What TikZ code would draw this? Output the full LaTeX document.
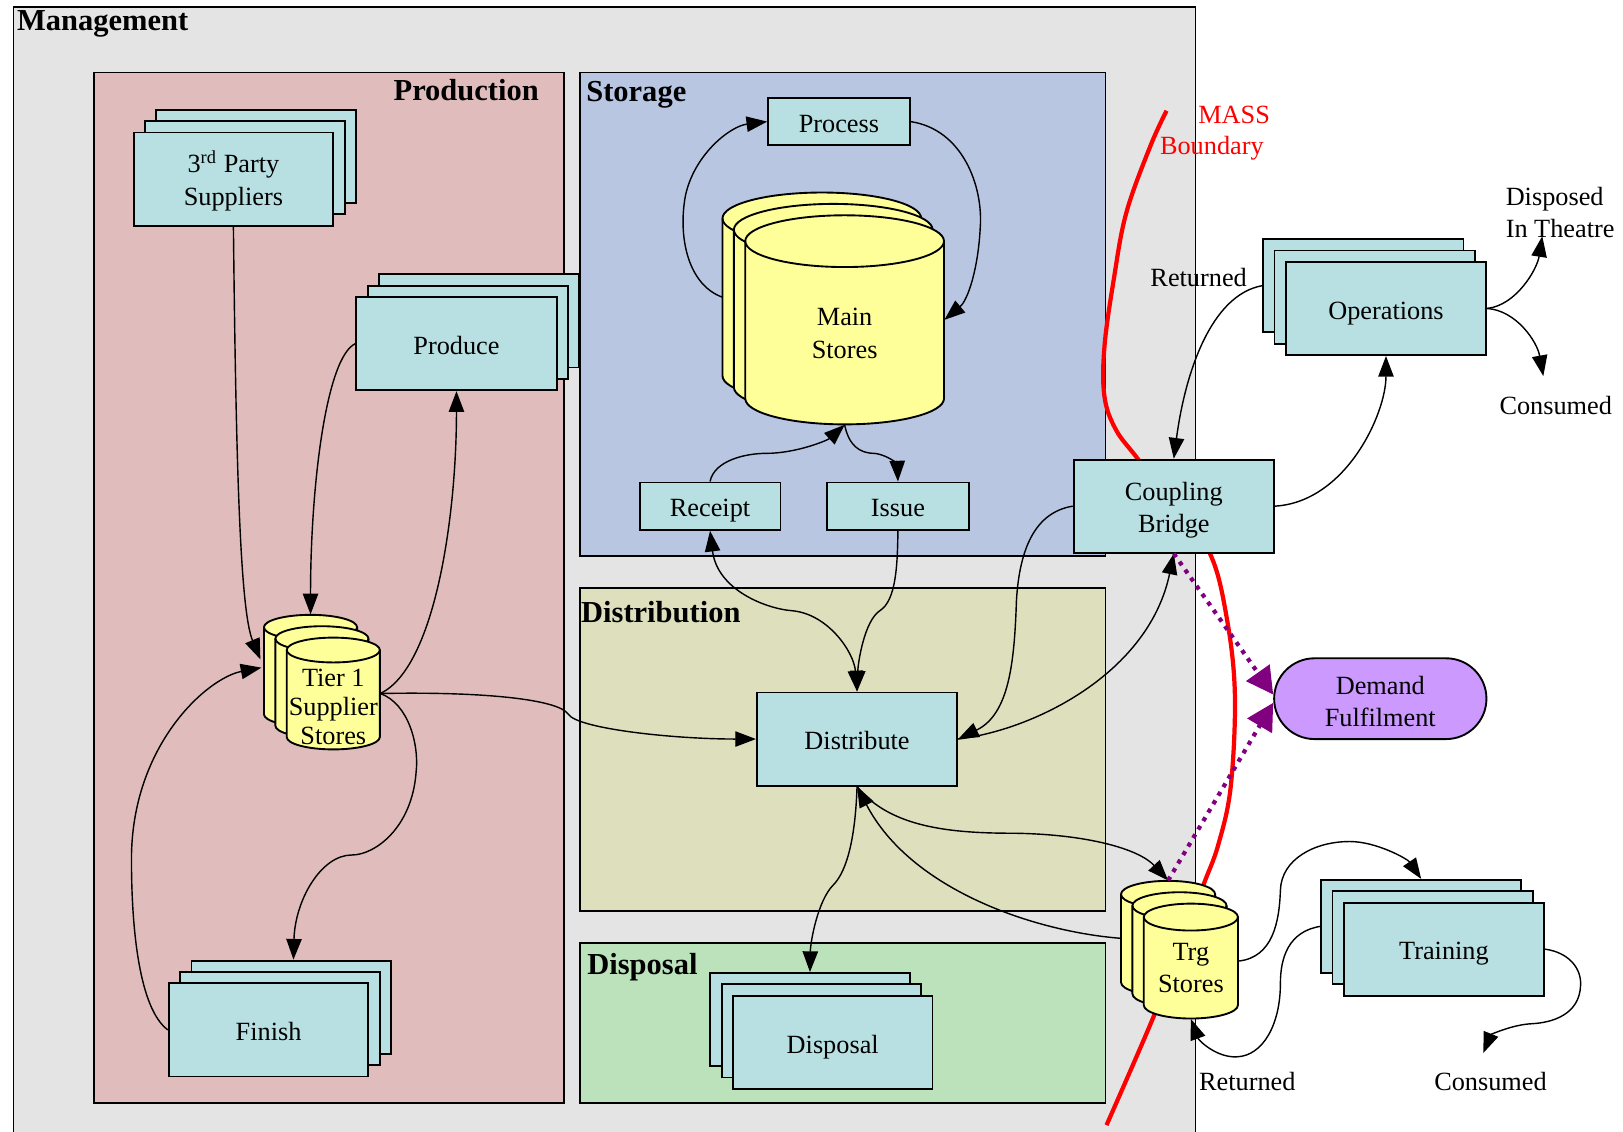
\documentclass[tikz,border=0pt]{standalone}
\usepackage{fontspec}
\setmainfont{Liberation Serif}
\usepackage{tikz}
\usetikzlibrary{calc}
\usetikzlibrary{arrows.meta}
\usetikzlibrary{shapes.misc}
\usetikzlibrary{shadows}

\definecolor{gris}{RGB}{228,228,228}
\definecolor{rosa}{RGB}{224,189,188}
\definecolor{azul}{RGB}{184,198,226}
\definecolor{oliva}{RGB}{222,223,188}
\definecolor{verde}{RGB}{188,226,188}
\definecolor{celeste}{RGB}{184,224,226}
\definecolor{amarillo}{RGB}{255,255,153}
\definecolor{lila}{RGB}{204,153,255}
\definecolor{morado}{RGB}{128,0,128}

\newcommand{\txt}{\fontsize{11.2}{13.7}\selectfont}
\newcommand{\titulo}{\fontsize{13}{15}\selectfont\bfseries}
% cilindro: centro x, tope y, radio x, alto, radio y
\newcommand{\cilindro}[5]{%
	\filldraw [fill=amarillo, line width=0.8pt] (#1-#3,#2+#5) -- (#1-#3,#2+#4-#5) arc [start angle=180, end angle=0, x radius=#3, y radius=#5] -- (#1+#3,#2+#5) arc [start angle=0, end angle=-180, x radius=#3, y radius=#5] -- cycle;
	\draw [line width=0.8pt] (#1-#3,#2+#5) arc [start angle=180, end angle=0, x radius=#3, y radius=#5];
}

\begin{document}
\begin{tikzpicture}[x=0.0155cm, y=-0.0155cm,
		caja/.style={draw, line width=0.8pt, fill=celeste, font=\txt, align=center, inner sep=0pt, minimum width=2.99cm, minimum height=1.395cm, text height=24.6pt},
		linea/.style={text height=11.6pt, text depth=2.4pt},
		pila izq/.style={copy shadow={shadow xshift=-0.34cm, shadow yshift=0.34cm, draw=black, fill=#1, line width=0.8pt}, copy shadow={shadow xshift=-0.17cm, shadow yshift=0.17cm, draw=black, fill=#1, line width=0.8pt}},
		pila der/.style={copy shadow={shadow xshift=0.34cm, shadow yshift=0.34cm, draw=black, fill=#1, line width=0.8pt}, copy shadow={shadow xshift=0.17cm, shadow yshift=0.17cm, draw=black, fill=#1, line width=0.8pt}},
		almacen/.style={font=\txt, align=center, inner sep=0pt},
		flecha/.style={-{Triangle[length=0.31cm, width=0.23cm]}, line width=0.6pt},
		flecha doble/.style={{Triangle[length=0.31cm, width=0.23cm]}-{Triangle[length=0.31cm, width=0.23cm]}, line width=0.6pt},
		demanda/.style={-{Triangle[length=0.4cm, width=0.42cm]}, draw=morado, line width=1.8pt, dash pattern=on 1.8pt off 2.4pt},
		titulo/.style={font=\titulo, inner sep=0pt},
		etiqueta/.style={font=\txt, inner sep=1pt}]
	\useasboundingbox (0,0) rectangle (1568,1093);

	% zonas
	\draw [line width=0.8pt, fill=gris] (13,7) rectangle (1155,1110); % management
	\draw [line width=0.8pt, fill=rosa] (91,70) rectangle (545,1066); % produccion
	\draw [line width=0.8pt, fill=azul] (560,70) rectangle (1068,537); % almacen
	\draw [line width=0.8pt, fill=oliva] (560,568) rectangle (1068,880); % distribucion
	\draw [line width=0.8pt, fill=verde] (560,911) rectangle (1068,1066); % desecho
	\node [titulo, anchor=base west] (management) at (16,29) {Management};
	\node [titulo, anchor=base east] (production) at (521,97) {Production};
	\node [titulo, anchor=base west] (storage) at (566,98) {Storage};
	\node [titulo, anchor=base west] (distribution) at (561,601) {Distribution};
	\node [titulo, anchor=base west] (disposalzone) at (567,941) {Disposal};

	% frontera MASS
	\draw [red, line width=1.8pt] plot [smooth, tension=0.6] coordinates {(1127,107) (1111,142) (1088,206) (1076,270) (1067,335) (1067,383) (1078,415) (1099,443) (1135,490) (1169,535) (1185,596) (1193,670) (1189,760) (1177,816) (1163,854) (1140,915) (1115,981) (1069,1087)};
	\node [etiqueta, red, anchor=west] (mass) at (1155,111) {MASS};
	\node [etiqueta, red, anchor=west] (boundary) at (1118,143) {Boundary};

	% depositos
	\foreach \d in {22,11,0} {\cilindro{322-\d}{616-\d}{45}{108}{12}} % tier 1
	\foreach \d in {22,11,0} {\cilindro{816-\d}{208-\d}{96}{202}{25}} % principal
	\foreach \d in {22,11,0} {\cilindro{1150.5-\d}{873-\d}{45.5}{111}{13}} % entrenamiento
	\node [almacen, minimum width=1.395cm, minimum height=1.674cm, text height=43.8pt, font=\fontsize{11.2}{12.4}\selectfont] (tier) at (322,670) {Tier 1\\Supplier\\Stores};
	\node [almacen, minimum width=2.976cm, minimum height=3.131cm, text height=32.7pt] (main) at (816,309) {Main\\Stores};
	\node [almacen, minimum width=1.41cm, minimum height=1.72cm, text height=27.1pt] (trg) at (1150.5,928.5) {Trg\\Stores};

	% nodos
	\node [caja, pila der=celeste] (sup) at (225.5,173) {3\textsuperscript{rd} Party\\Suppliers};
	\node [caja, linea, pila der=celeste, minimum width=3.0cm] (produce) at (441,332) {Produce};
	\node [caja, linea, pila der=celeste] (finish) at (259.5,995) {Finish};
	\node [caja, linea, minimum width=2.12cm, minimum height=0.70cm] (process) at (810.5,117.5) {Process};
	\node [caja, linea, minimum width=2.11cm, minimum height=0.71cm] (receipt) at (686,489) {Receipt};
	\node [caja, linea, minimum width=2.12cm, minimum height=0.71cm] (issue) at (867.5,489) {Issue};
	\node [caja, linea, minimum width=3.0cm] (distribute) at (828,714) {Distribute};
	\node [caja, linea, pila izq=celeste] (disposal) at (804.5,1007) {Disposal};
	\node [caja, minimum width=3.0cm] (coupling) at (1134,489) {Coupling\\Bridge};
	\node [caja, linea, pila izq=celeste, minimum width=3.0cm] (ops) at (1339,298) {Operations};
	\node [caja, linea, pila izq=celeste, minimum width=3.0cm] (training) at (1395,917) {Training};
	\node [draw, rounded rectangle, line width=0.8pt, fill=lila, font=\txt, align=center, minimum width=3.18cm, minimum height=1.21cm, inner sep=0pt, text height=23.6pt] (demand) at (1333.5,675) {Demand\\Fulfilment};
	\node [etiqueta] (returnedops) at (1158,268) {Returned};
	\node [etiqueta, anchor=west, align=left] (disposed) at (1452,205) {Disposed\\In Theatre};
	\node [etiqueta] (consumed) at (1503,392) {Consumed};
	\node [etiqueta] (returnedtrg) at (1205,1045) {Returned};
	\node [etiqueta] (consumedtrg) at (1440,1045) {Consumed};

	% produccion
	\draw [flecha] (sup.south) .. controls (228,450) and (232,590) .. ($(tier.west)+(-25,-33)$);
	\draw [flecha] (produce.west) .. controls (315,345) and (300,470) .. ($(tier.north)+(-22,-22)$);
	\draw [flecha] (tier.east) .. controls (420,645) and (441,500) .. (produce.south);
	\draw [flecha] (tier.east) .. controls (470,668) and (540,676) .. (549,690) .. controls (558,704) and (650,714) .. (distribute.west);
	\draw [flecha] (tier.east) .. controls (395,680) and (405,720) .. (402,746) .. controls (398,800) and (362,826) .. (340,826) .. controls (310,826) and (285,870) .. ($(finish.north)+(24,-22)$);
	\draw [flecha] (finish.west) .. controls (135,975) and (127,900) .. (127,830) .. controls (127,720) and (200,655) .. ($(tier.west)+(-24,-25)$);

	% almacen
	\draw [flecha] ($(main.west)+(-22,-22)$) .. controls (665,275) and (655,230) .. (662,190) .. controls (670,150) and (705,122) .. (process.west);
	\draw [flecha] (process.east) .. controls (930,125) and (950,180) .. (947,220) .. controls (945,260) and (935,290) .. (main.east);
	\draw [flecha] (receipt.north) .. controls (690,445) and (720,438) .. (740,438) .. controls (770,438) and (800,425) .. (main.south);
	\draw [flecha] (main.south) .. controls (820,430) and (830,438) .. (845,438) .. controls (860,440) and (867,450) .. (issue.north);

	% distribucion
	\draw [flecha doble] (receipt.south) .. controls (693,570) and (740,588) .. (765,590) .. controls (800,593) and (825,630) .. (distribute.north);
	\draw [flecha] (issue.south) .. controls (867,545) and (866,580) .. (850,590) .. controls (835,600) and (829,640) .. (distribute.north);
	\draw [flecha] (coupling.west) .. controls (1000,495) and (985,530) .. (982,580) .. controls (980,640) and (975,690) .. (distribute.east);
	\draw [flecha] (distribute.east) .. controls (1000,705) and (1110,650) .. (coupling.south);
	\draw [flecha] (distribute.south) .. controls (826,820) and (815,845) .. (805,855) .. controls (790,870) and (783,910) .. ($(disposal.north)+(-22,-22)$);
	\draw [flecha] (distribute.south) .. controls (860,800) and (920,805) .. (980,805) .. controls (1050,806) and (1100,820) .. ($(trg.north)+(-22,-22)$);
	\draw [flecha] ($(trg.west)+(-22,-22)$) .. controls (1000,900) and (880,860) .. (distribute.south);

	% operaciones
	\draw [flecha] (coupling.east) .. controls (1300,485) and (1339,400) .. (ops.south);
	\draw [flecha] ($(ops.west)+(-22,-22)$) .. controls (1170,285) and (1145,360) .. (coupling.north);
	\draw [flecha] (ops.east) .. controls (1465,295) and (1485,260) .. ($(disposed.south west)+(38,-4)$);
	\draw [flecha] (ops.east) .. controls (1465,300) and (1485,330) .. ($(consumed.north)+(-12,-17)$);

	% entrenamiento
	\draw [flecha] (trg.east) .. controls (1230,925) and (1236,890) .. (1237,860) .. controls (1238,830) and (1270,813) .. (1304,813) .. controls (1330,813) and (1360,830) .. ($(training.north)+(-22,-22)$);
	\draw [flecha] ($(training.west)+(-22,-22)$) .. controls (1245,900) and (1237,925) .. (1237,950) .. controls (1237,990) and (1220,1020) .. (1195,1021) .. controls (1175,1022) and (1158,1005) .. (trg.south);
	\draw [flecha] (training.east) .. controls (1515,920) and (1528,935) .. (1527,952) .. controls (1526,980) and (1500,988) .. (1480,989) .. controls (1460,990) and (1440,1000) .. ($(consumedtrg.north)+(-7,-16)$);

	% demanda
	\draw [demanda] (coupling.south) -- ($(demand.west)+(0,-4)$);
	\draw [demanda] ($(trg.north)+(-22,-22)$) -- ($(demand.west)+(0,4)$);
\end{tikzpicture}
\end{document}
